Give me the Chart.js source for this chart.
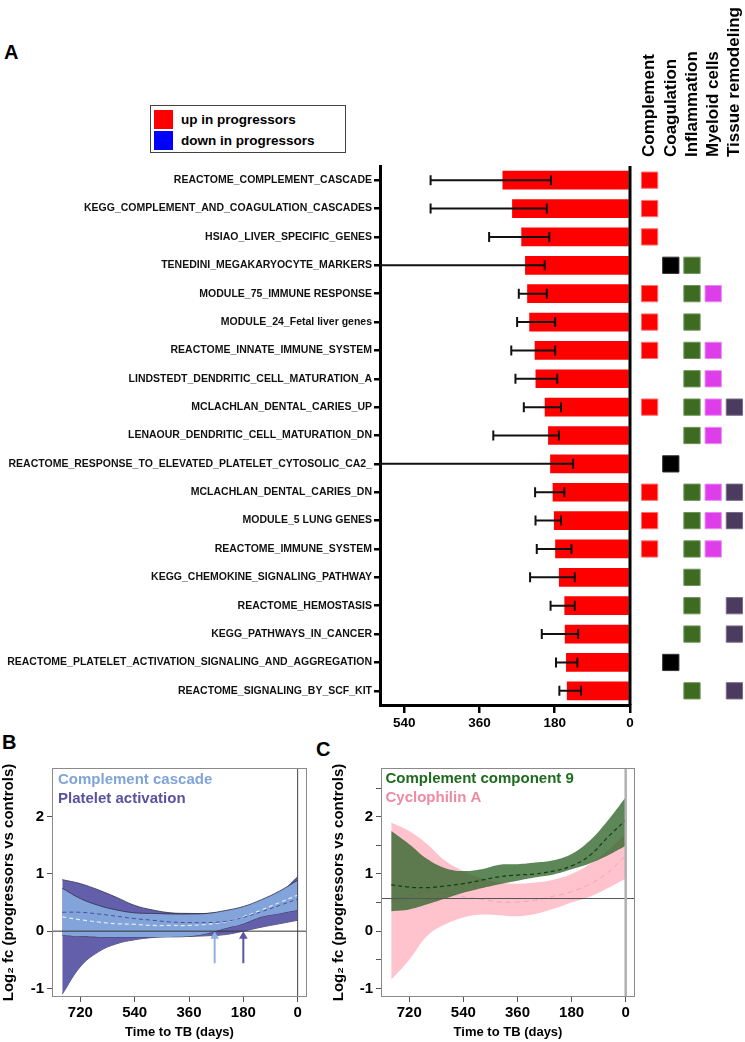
<!DOCTYPE html>
<html>
<head>
<meta charset="utf-8">
<script src="https://cdn.jsdelivr.net/npm/chart.js@4.4.1/dist/chart.umd.min.js"></script>
<style>
  body { margin: 0; background: #fff; }
  #page { position: relative; width: 745px; height: 1042px; font-family: 'Liberation Sans', Arial, sans-serif; color: #000; }
  canvas { position: absolute; }
  .panel { position: absolute; font-weight: bold; font-size: 20px; line-height: 20px; }
  #legendA { position: absolute; left: 150px; top: 105px; width: 194px; height: 46px; border: 1.5px solid #444; }
  .lgItem { position: absolute; left: 3px; font-weight: bold; font-size: 13.5px; line-height: 19px; height: 19px; white-space: nowrap; }
  .lgSwatch { display: inline-block; width: 19px; height: 19px; vertical-align: top; margin-right: 8px; }
</style>
</head>
<body>
<div id="page">
  <div class="panel" style="left:4px;top:42px">A</div>
  <div class="panel" style="left:2px;top:732px">B</div>
  <div class="panel" style="left:316px;top:739px">C</div>
  <div id="legendA"></div>
  <canvas id="barChart" width="640" height="660" style="left:0;top:90px"></canvas>
  <canvas id="groupChart" width="106" height="750" style="left:639px;top:0"></canvas>
  <canvas id="chartB" width="330" height="312" style="left:0;top:730px"></canvas>
  <canvas id="chartC" width="415" height="312" style="left:330px;top:730px"></canvas>
</div>
<script>
// ---- panel A data ----
let pathways = [
    'REACTOME_COMPLEMENT_CASCADE',
    'KEGG_COMPLEMENT_AND_COAGULATION_CASCADES',
    'HSIAO_LIVER_SPECIFIC_GENES',
    'TENEDINI_MEGAKARYOCYTE_MARKERS',
    'MODULE_75_IMMUNE RESPONSE',
    'MODULE_24_Fetal liver genes',
    'REACTOME_INNATE_IMMUNE_SYSTEM',
    'LINDSTEDT_DENDRITIC_CELL_MATURATION_A',
    'MCLACHLAN_DENTAL_CARIES_UP',
    'LENAOUR_DENDRITIC_CELL_MATURATION_DN',
    'REACTOME_RESPONSE_TO_ELEVATED_PLATELET_CYTOSOLIC_CA2_',
    'MCLACHLAN_DENTAL_CARIES_DN',
    'MODULE_5 LUNG GENES',
    'REACTOME_IMMUNE_SYSTEM',
    'KEGG_CHEMOKINE_SIGNALING_PATHWAY',
    'REACTOME_HEMOSTASIS',
    'KEGG_PATHWAYS_IN_CANCER',
    'REACTOME_PLATELET_ACTIVATION_SIGNALING_AND_AGGREGATION',
    'REACTOME_SIGNALING_BY_SCF_KIT'
];
let upInProgressors = [305, 282, 260, 251, 246, 241, 228, 226, 204, 196, 191, 185, 182, 179, 170, 157, 156, 153, 151];
let downInProgressors = [];
let ciFar = [477, 477, 337, 700, 266, 270, 284, 274, 254, 327, 700, 227, 226, 223, 239, 190, 211, 177, 169];
let ciNear = [189, 199, 193, 204, 199, 179, 179, 174, 165, 170, 136, 157, 165, 140, 132, 132, 124, 126, 117];
let barTicks = [540, 360, 180, 0];

let groups = ['Complement', 'Coagulation', 'Inflammation', 'Myeloid cells', 'Tissue remodeling'];
let complementFlag   = [1,1,1,0,1,1,1,0,1,0,0,1,1,1,0,0,0,0,0];
let coagulationFlag  = [0,0,0,1,0,0,0,0,0,0,1,0,0,0,0,0,0,1,0];
let inflammationFlag = [0,0,0,1,1,1,1,1,1,1,0,1,1,1,1,1,1,0,1];
let myeloidFlag      = [0,0,0,0,1,0,1,1,1,1,0,1,1,1,0,0,0,0,0];
let tissueFlag       = [0,0,0,0,0,0,0,0,1,0,0,1,1,0,0,1,1,0,1];

// ---- panels B and C data ----
let dayPoints = [780, 720, 660, 600, 540, 480, 420, 360, 300, 240, 180, 120, 60, 0];
let dayTicks = [720, 540, 360, 180, 0];

let complementUpperB = [0.75, 0.57, 0.45, 0.37, 0.32, 0.31, 0.30, 0.30, 0.31, 0.36, 0.43, 0.55, 0.70, 0.89];
let complementLowerB = [-0.07, -0.09, -0.10, -0.10, -0.10, -0.10, -0.10, -0.09, -0.04, 0.05, 0.13, 0.25, 0.31, 0.37];
let complementMeanB  = [0.25, 0.20, 0.16, 0.13, 0.12, 0.10, 0.10, 0.10, 0.12, 0.16, 0.25, 0.37, 0.50, 0.63];
let plateletUpperB   = [0.90, 0.83, 0.72, 0.59, 0.45, 0.37, 0.32, 0.31, 0.31, 0.34, 0.40, 0.50, 0.66, 0.95];
let plateletLowerB   = [-1.10, -0.62, -0.36, -0.22, -0.15, -0.11, -0.09, -0.09, -0.08, -0.06, 0.00, 0.07, 0.13, 0.19];
let plateletMeanB    = [0.33, 0.33, 0.30, 0.26, 0.22, 0.19, 0.16, 0.15, 0.15, 0.17, 0.24, 0.34, 0.45, 0.56];
let arrowDaysB = [275, 180];
let arrowFrom = -0.56;
let arrowTo = -0.09;
let yTicksB = [-1, 0, 1, 2];
let seriesB = ['Complement cascade', 'Platelet activation'];

let c9Upper = [1.75, 1.52, 1.26, 1.10, 1.05, 1.08, 1.16, 1.17, 1.20, 1.24, 1.35, 1.58, 1.93, 2.34];
let c9Lower = [0.35, 0.38, 0.47, 0.57, 0.67, 0.75, 0.82, 0.88, 0.94, 0.99, 1.08, 1.18, 1.32, 1.49];
let c9Mean  = [0.81, 0.77, 0.76, 0.79, 0.83, 0.89, 0.95, 0.98, 1.00, 1.05, 1.14, 1.32, 1.64, 1.94];
let cypUpper = [1.90, 1.75, 1.52, 1.23, 1.05, 0.92, 0.85, 0.83, 0.85, 0.90, 1.00, 1.17, 1.40, 1.70];
let cypLower = [-0.85, -0.50, -0.08, 0.12, 0.24, 0.29, 0.28, 0.26, 0.30, 0.39, 0.50, 0.60, 0.75, 0.92];
let cypMean  = [0.52, 0.62, 0.70, 0.67, 0.60, 0.56, 0.51, 0.51, 0.54, 0.61, 0.69, 0.82, 1.02, 1.32];
let refLineC = 0.57;
let yTicksC = [-1, -0.5, 0, 0.5, 1, 1.5, 2, 2.5];
let seriesC = ['Complement component 9', 'Cyclophilin A'];

Chart.defaults.font.family = "'Liberation Sans', Arial, sans-serif";
Chart.defaults.color = '#000';

let boldFont = function (size) { return { size: size, weight: 'bold' }; };

// error bars drawn through the x/y scales
let errorBarPlugin = {
    id: 'errorBars',
    afterDatasetsDraw(chart, args, opts) {
        let xs = chart.scales.x, ys = chart.scales.y, area = chart.chartArea, ctx = chart.ctx;
        ctx.save();
        ctx.strokeStyle = opts.color;
        ctx.lineWidth = opts.width;
        opts.far.forEach(function (far, i) {
            let y = ys.getPixelForValue(i);
            let x1 = Math.max(xs.getPixelForValue(far), area.left);
            let x2 = xs.getPixelForValue(opts.near[i]);
            ctx.beginPath();
            ctx.moveTo(x1, y);
            ctx.lineTo(x2, y);
            ctx.moveTo(x2, y - opts.cap);
            ctx.lineTo(x2, y + opts.cap);
            if (far <= xs.max) {
                ctx.moveTo(x1, y - opts.cap);
                ctx.lineTo(x1, y + opts.cap);
            }
            ctx.stroke();
        });
        ctx.restore();
    }
};

// reference lines and plot frame
let refLinePlugin = {
    id: 'refLines',
    afterDatasetsDraw(chart, args, opts) {
        let ctx = chart.ctx, a = chart.chartArea;
        ctx.save();
        (opts.lines || []).forEach(function (l) {
            ctx.strokeStyle = l.color;
            ctx.lineWidth = l.width;
            ctx.beginPath();
            if (l.axis === 'x') {
                let px = chart.scales.x.getPixelForValue(l.value);
                ctx.moveTo(px, a.top);
                ctx.lineTo(px, a.bottom);
            } else {
                let py = chart.scales.y.getPixelForValue(l.value);
                ctx.moveTo(a.left, py);
                ctx.lineTo(a.right, py);
            }
            ctx.stroke();
        });
        if (opts.frame) {
            ctx.strokeStyle = opts.frame;
            ctx.lineWidth = 1;
            ctx.strokeRect(a.left + 0.5, a.top + 0.5, a.width - 1, a.height - 1);
        }
        ctx.restore();
    }
};

// coloured series names written inside the plot area
let seriesLabelPlugin = {
    id: 'seriesLabels',
    afterDraw(chart, args, opts) {
        let ctx = chart.ctx, a = chart.chartArea;
        ctx.save();
        ctx.font = 'bold ' + opts.size + 'px ' + Chart.defaults.font.family;
        ctx.textBaseline = 'middle';
        ctx.textAlign = 'left';
        opts.names.forEach(function (n, i) {
            ctx.fillStyle = opts.colors[i];
            ctx.fillText(n, a.left + opts.dx, a.top + opts.dy + i * opts.step);
        });
        ctx.restore();
    }
};

// ---------- panel A: bars ----------
let barChart = new Chart(document.getElementById('barChart'), {
    type: 'bar',
    data: {
        labels: pathways,
        datasets: [{
            label: 'up in progressors',
            data: upInProgressors,
            backgroundColor: '#ff0000',
            grouped: false,
            barPercentage: 0.66,
            categoryPercentage: 1
        },
        {
            label: 'down in progressors',
            data: downInProgressors,
            backgroundColor: '#0000ff',
            grouped: false,
            barPercentage: 0.66,
            categoryPercentage: 1
        }]
    },
    options: {
        indexAxis: 'y',
        responsive: false,
        animation: false,
        layout: { padding: { top: 76, right: 10, left: 0, bottom: 0 } },
        scales: {
            x: {
                type: 'linear',
                reverse: true,
                min: 0,
                max: 598,
                afterBuildTicks: function (s) { s.ticks = barTicks.map(v => ({ value: v })); },
                afterFit: function (s) { s.height = 45; },
                ticks: { font: boldFont(13.5), color: '#000', padding: 2 },
                grid: { drawOnChartArea: false, drawTicks: true, tickLength: 8, color: '#000', lineWidth: 2.5 },
                border: { color: '#000', width: 3 }
            },
            y: {
                afterFit: function (s) { s.width = 380; },
                ticks: { font: boldFont(10.5), color: '#111', padding: 2, autoSkip: false },
                grid: { offset: false, drawOnChartArea: false, tickLength: 6, color: '#000', lineWidth: 2.5 },
                border: { color: '#000', width: 3 }
            }
        },
        plugins: {
            legend: { display: false },
            tooltip: { enabled: false },
            errorBars: { far: ciFar, near: ciNear, color: '#111', width: 2, cap: 5 },
            refLines: { lines: [{ axis: 'x', value: 0, color: '#000', width: 3 }] }
        }
    },
    plugins: [errorBarPlugin, refLinePlugin]
});

// html legend from the bar datasets
function buildLegendA(chart) {
    let box = document.getElementById('legendA');
    chart.data.datasets.forEach(function (ds, i) {
        let item = document.createElement('div');
        item.className = 'lgItem';
        item.style.top = (4 + i * 21) + 'px';
        item.innerHTML = '<span class="lgSwatch" style="background:' + ds.backgroundColor + '"></span>' + ds.label;
        box.appendChild(item);
    });
}
buildLegendA(barChart);

// ---------- panel A: category squares ----------
let groupFlags = [complementFlag, coagulationFlag, inflammationFlag, myeloidFlag, tissueFlag];
let groupColors = ['#ff0000', '#000000', '#3d6b21', '#dd3ee9', '#4b3b5f'];
let groupBorders = ['#ff7070', '#333333', '#6e9456', '#e98af0', '#7a6c8a'];

let groupChart = new Chart(document.getElementById('groupChart'), {
    type: 'scatter',
    data: {
        datasets: groups.map(function (g, k) {
            let pts = [];
            pathways.forEach(function (p, i) {
                if (groupFlags[k][i]) pts.push({ x: g, y: p });
            });
            return {
                label: g,
                data: pts,
                backgroundColor: groupColors[k],
                borderColor: groupBorders[k],
                borderWidth: 1,
                pointStyle: 'rect',
                pointRadius: 11.5,
                pointHoverRadius: 11.5
            };
        })
    },
    options: {
        responsive: false,
        animation: false,
        layout: { autoPadding: false, padding: { top: 0, right: 0, left: 0, bottom: 45 } },
        scales: {
            x: {
                type: 'category',
                labels: groups,
                position: 'top',
                offset: true,
                afterFit: function (s) {
                    s.height = 166;
                    s.paddingLeft = 0;
                    s.paddingRight = 0;
                },
                ticks: { minRotation: 90, maxRotation: 90, autoSkip: false, font: boldFont(17), color: '#000',
                    padding: 9, labelOffset: 20.5 },
                grid: { display: false, drawTicks: false },
                border: { display: false }
            },
            y: { type: 'category', labels: pathways, offset: true, display: false }
        },
        plugins: { legend: { display: false }, tooltip: { enabled: false } }
    }
});

// ---------- panels B and C ----------
function toPoints(values) {
    return dayPoints.map(function (d, i) { return { x: d, y: values[i] }; });
}

function curve(label, values, color, width, dash) {
    return { label: label, data: toPoints(values), borderColor: color, borderWidth: width, borderDash: dash || [],
        pointRadius: 0, tension: 0.4, fill: false };
}

function band(label, values, edge, edgeWidth, fillColor) {
    return { label: label, data: toPoints(values), borderColor: edge, borderWidth: edgeWidth,
        backgroundColor: fillColor, pointRadius: 0, tension: 0.4, fill: '+1' };
}

function arrow(day, color) {
    return { label: 'arrow', data: [{ x: day, y: arrowFrom }, { x: day, y: arrowTo }], borderColor: color, borderWidth: 2,
        pointRadius: [0, 5], pointStyle: 'triangle', pointBackgroundColor: color, pointBorderWidth: 0, tension: 0, fill: false };
}

function timeAxes(yTicks, yWidth, yLabel) {
    return {
        x: {
            type: 'linear',
            reverse: true,
            min: -31,
            max: 814,
            afterBuildTicks: function (s) { s.ticks = dayTicks.map(v => ({ value: v })); },
            afterFit: function (s) { s.height = 45; },
            ticks: { font: boldFont(15), color: '#000', padding: 2 },
            grid: { drawOnChartArea: false, tickLength: 5, color: '#555' },
            border: { display: false },
            title: { display: true, text: 'Time to TB (days)', font: boldFont(13), color: '#000', padding: { top: 0, bottom: 2 } }
        },
        y: {
            min: -1.15,
            max: 2.85,
            afterBuildTicks: function (s) { s.ticks = yTicks.map(v => ({ value: v })); },
            afterFit: function (s) { s.width = yWidth; },
            ticks: { font: boldFont(15), color: '#000', padding: 3,
                callback: function (v) { return Number.isInteger(v) ? v : ''; } },
            grid: { drawOnChartArea: false, tickLength: 5, color: '#555' },
            border: { display: false },
            title: { display: true, text: yLabel, font: boldFont(15), color: '#000', padding: { top: 0, bottom: 0 } }
        }
    };
}

let chartB = new Chart(document.getElementById('chartB'), {
    type: 'line',
    data: {
        datasets: [
            arrow(arrowDaysB[0], '#8fb1e3'),
            arrow(arrowDaysB[1], '#5a55a5'),
            curve('Platelet activation mean', plateletMeanB, '#4b4d96', 1, [4, 3]),
            curve('Complement cascade mean', complementMeanB, '#e2ecf8', 1.2, [4, 3]),
            band('Complement cascade upper', complementUpperB, '#2e2e48', 0.8, '#83a4da'),
            curve('Complement cascade lower', complementLowerB, '#2e2e48', 0.8),
            band('Platelet activation upper', plateletUpperB, '#2e2e48', 0.8, '#645fab'),
            curve('Platelet activation lower', plateletLowerB, '#2e2e48', 0.8)
        ]
    },
    options: {
        responsive: false,
        animation: false,
        layout: { padding: { top: 38, right: 23, left: 0, bottom: 0 } },
        scales: timeAxes(yTicksB, 52, 'Log\u2082 fc (progressors vs controls)'),
        plugins: {
            legend: { display: false },
            tooltip: { enabled: false },
            seriesLabels: { names: seriesB, colors: ['#80a4d8', '#5952a0'], size: 15, dx: 6, dy: 12, step: 19 },
            refLines: {
                lines: [{ axis: 'y', value: 0, color: '#333', width: 1 }, { axis: 'x', value: 0, color: '#444', width: 1 }],
                frame: '#8a8a8a'
            }
        }
    },
    plugins: [refLinePlugin, seriesLabelPlugin]
});

let chartC = new Chart(document.getElementById('chartC'), {
    type: 'line',
    data: {
        datasets: [
            curve('Complement component 9 mean', c9Mean, '#123f12', 1.2, [4, 3]),
            band('Complement component 9 upper', c9Upper, 'rgba(0,0,0,0)', 0, 'rgba(48,100,42,0.78)'),
            curve('Complement component 9 lower', c9Lower, 'rgba(0,0,0,0)', 0),
            curve('Cyclophilin A mean', cypMean, '#f2a3b3', 1, [5, 4]),
            band('Cyclophilin A upper', cypUpper, 'rgba(0,0,0,0)', 0, '#ffc3cd'),
            curve('Cyclophilin A lower', cypLower, 'rgba(0,0,0,0)', 0)
        ]
    },
    options: {
        responsive: false,
        animation: false,
        layout: { padding: { top: 38, right: 110, left: 0, bottom: 0 } },
        scales: timeAxes(yTicksC, 51, 'Log\u2082 fc (progressors vs controls)'),
        plugins: {
            legend: { display: false },
            tooltip: { enabled: false },
            seriesLabels: { names: seriesC, colors: ['#1e6b1e', '#ee8aa2'], size: 15, dx: 4.5, dy: 10.5, step: 19 },
            refLines: {
                lines: [{ axis: 'y', value: refLineC, color: '#555', width: 1 }, { axis: 'x', value: 0, color: '#b0b0b0', width: 2.5 }],
                frame: '#8a8a8a'
            }
        }
    },
    plugins: [refLinePlugin, seriesLabelPlugin]
});
</script>
</body>
</html>
